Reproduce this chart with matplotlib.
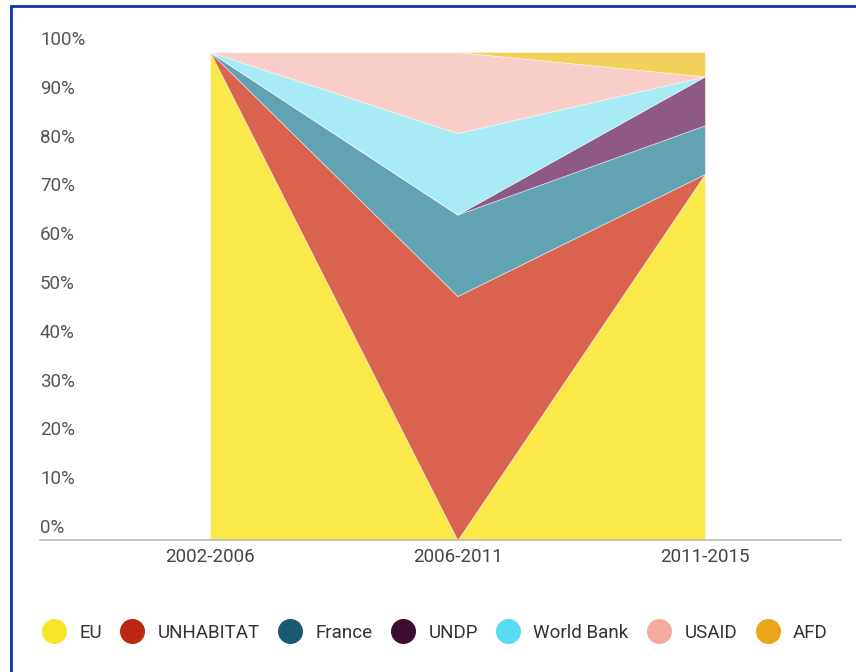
import matplotlib.pyplot as plt
from matplotlib.lines import Line2D
from matplotlib.patches import Rectangle

plt.rcParams['font.family'] = ['Roboto', 'DejaVu Sans']

# period labels and donor shares (%)
periods = ["2002-2006", "2006-2011", "2011-2015"]
donors = ["EU", "UNHABITAT", "France", "UNDP", "World Bank", "USAID", "AFD"]
eu = [100, 0, 75]
unhabitat = [0, 50, 0]
france = [0, 16.7, 10]
undp = [0, 0, 10]
world_bank = [0, 16.7, 0]
usaid = [0, 16.6, 0]
afd = [0, 0, 5]

legend_colors = ["#FAE428", "#B9280F", "#1A5A73", "#3C0F32", "#5ADCF0", "#F5AAA0", "#EBA519"]
fill_colors = ["#FBE94A", "#D9634F", "#62A3B3", "#8E5983", "#A9EBF4", "#F9CEC8", "#F3D05A"]

yticks = [0, 10, 20, 30, 40, 50, 60, 70, 80, 90, 100]
ytick_labels = ["{}%".format(v) for v in yticks]

fig = plt.figure(figsize=(8.56, 6.72), dpi=100)
fig.patch.set_facecolor("white")
ax = fig.add_axes([40 / 856, 132 / 672, 801 / 856, 488 / 672])

x = list(range(len(periods)))
ax.stackplot(x, eu, unhabitat, france, undp, world_bank, usaid, afd,
             colors=fill_colors, edgecolor=(1, 1, 1, 0.5), linewidth=0.6)

ax.set_xlim(-0.687, 2.55)
ax.set_ylim(0, 100)
for s in ["top", "right", "left"]:
    ax.spines[s].set_visible(False)
ax.spines["bottom"].set_color("#BBBBBB")
ax.spines["bottom"].set_linewidth(1.2)
ax.spines["bottom"].set_zorder(5)

ax.set_yticks([])
ax.set_xticks(x)
ax.set_xticklabels(periods, fontsize=13.5, color="#444444")
ax.tick_params(axis="x", length=0, pad=6)

# y labels sit just above their level, left aligned
for v, lab in zip(yticks, ytick_labels):
    ax.annotate(lab, xy=(0, v), xycoords=ax.get_yaxis_transform(),
                xytext=(0, 12), textcoords="offset pixels",
                ha="left", va="center", fontsize=13.5, color="#555555")

handles = [Line2D([0], [0], marker="o", linestyle="", markersize=17,
                  markerfacecolor=c, markeredgecolor=c) for c in legend_colors]
fig.legend(handles, donors, loc="center", bbox_to_anchor=(0.504, 0.058),
           ncol=7, frameon=False, fontsize=13.5, handletextpad=0.35,
           columnspacing=0.62, labelcolor="#333333")

# blue frame (cut off on right and bottom)
fig.patches.append(Rectangle((10.5 / 856, -0.1), 1.2, 666 / 672 + 0.1,
                             transform=fig.transFigure, fill=False,
                             edgecolor="#1030B0", linewidth=2))

fig.savefig("out.png", dpi=100)
